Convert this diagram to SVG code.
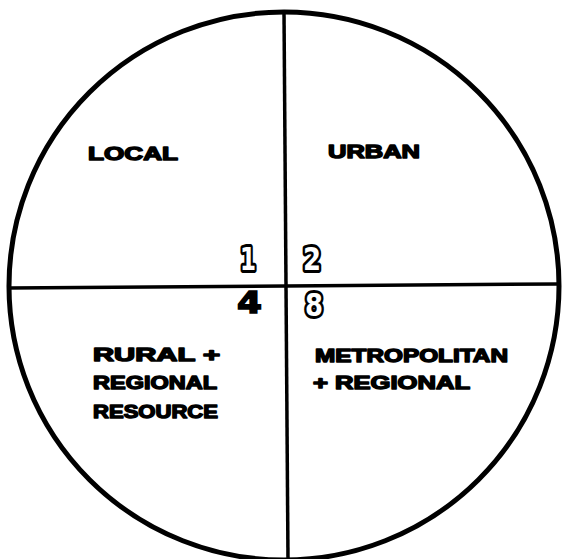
<svg xmlns="http://www.w3.org/2000/svg" width="562" height="559" viewBox="0 0 562 559">
<style>
.lbl{font-family:"Liberation Sans","DejaVu Sans",sans-serif;font-weight:bold;font-size:18px;fill:#000;stroke:#000;stroke-width:1.4px;stroke-linejoin:round}
.num{font-family:"DejaVu Sans","Liberation Sans",sans-serif;font-weight:bold;font-size:32px;fill:#fff;stroke:#000;stroke-width:6px;paint-order:stroke;stroke-linejoin:round}
.num4{font-family:"DejaVu Sans","Liberation Sans",sans-serif;font-weight:bold;font-size:30px;fill:#000;stroke:#000;stroke-width:1.5px}
</style>
<rect width="562" height="559" fill="#fff"/>
<g id="connectors" stroke="#000" fill="none">
<ellipse cx="284" cy="286" rx="275" ry="274" stroke-width="5"/>
<line x1="284" y1="12" x2="288" y2="559" stroke-width="3.5"/>
<line x1="9" y1="288" x2="559" y2="284" stroke-width="3.5"/>
</g>
<g id="q1"><text class="lbl" x="88" y="160" textLength="90" lengthAdjust="spacingAndGlyphs">LOCAL</text><text class="num" x="240" y="270" textLength="16" lengthAdjust="spacingAndGlyphs">1</text></g>
<g id="q2"><text class="lbl" x="328" y="158" textLength="92" lengthAdjust="spacingAndGlyphs">URBAN</text><text class="num" x="303" y="270" textLength="18" lengthAdjust="spacingAndGlyphs">2</text></g>
<g id="q4"><text class="lbl" x="93" y="361" textLength="127" lengthAdjust="spacingAndGlyphs">RURAL  +</text><text class="lbl" x="93" y="389" textLength="124" lengthAdjust="spacingAndGlyphs">REGIONAL</text><text class="lbl" x="93" y="418" textLength="125" lengthAdjust="spacingAndGlyphs">RESOURCE</text><text class="num4" x="237" y="313" textLength="25" lengthAdjust="spacingAndGlyphs">4</text></g>
<g id="q8"><text class="lbl" x="315" y="362" textLength="193" lengthAdjust="spacingAndGlyphs">METROPOLITAN</text><text class="lbl" x="313" y="389" textLength="157" lengthAdjust="spacingAndGlyphs">+ REGIONAL</text><text class="num" x="305" y="316" textLength="18" lengthAdjust="spacingAndGlyphs">8</text></g>
</svg>
